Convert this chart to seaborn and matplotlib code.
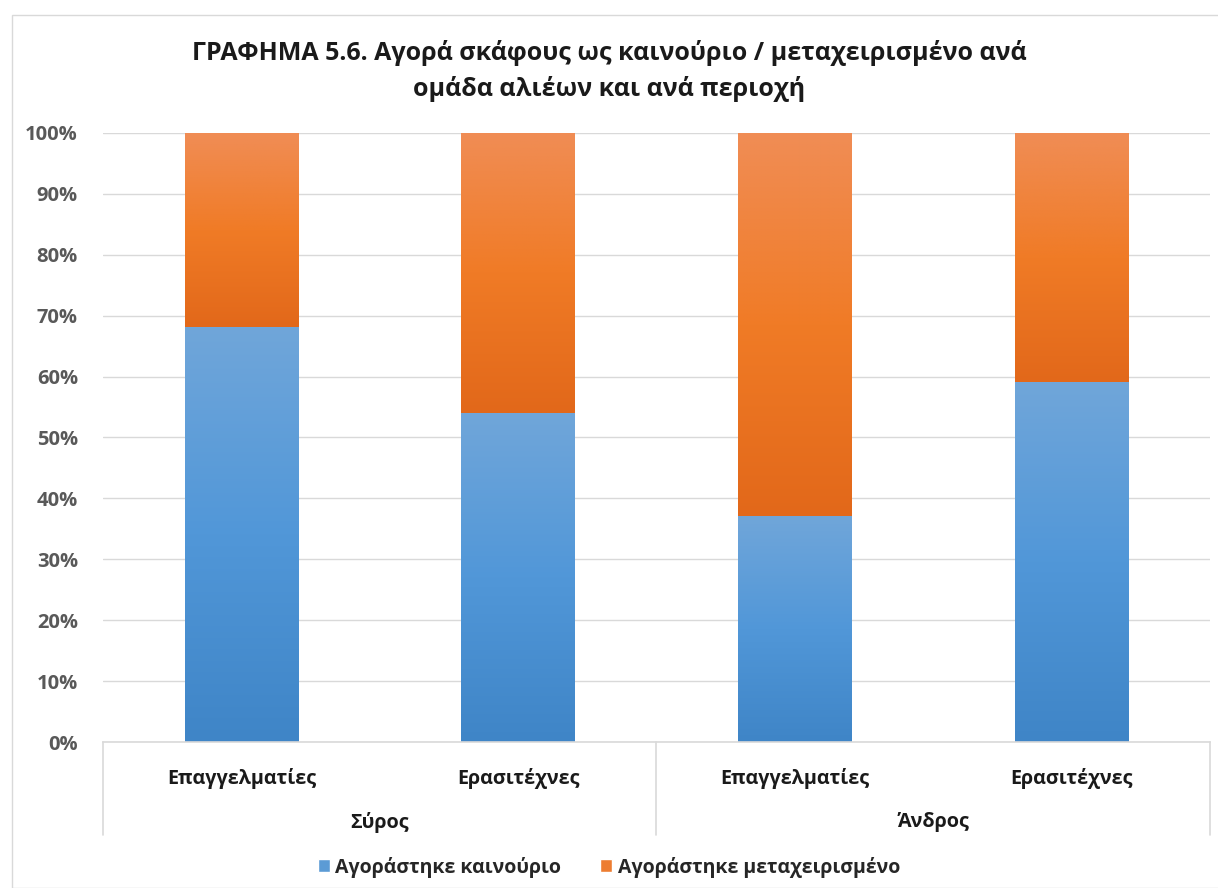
import matplotlib
matplotlib.use("Agg")
import matplotlib.pyplot as plt
import seaborn as sns
import pandas as pd
import numpy as np
from matplotlib.patches import Patch, Rectangle
from matplotlib.ticker import PercentFormatter
from matplotlib.colors import LinearSegmentedColormap

# ---- data ----
regions = ["Σύρος", "Σύρος", "Άνδρος", "Άνδρος"]
groups = ["Επαγγελματίες", "Ερασιτέχνες", "Επαγγελματίες", "Ερασιτέχνες"]
new_pct = [68, 54, 37, 59]
used_pct = [32, 46, 63, 41]
series_names = ["Αγοράστηκε καινούριο", "Αγοράστηκε μεταχειρισμένο"]
title = "ΓΡΑΦΗΜΑ 5.6. Αγορά σκάφους ως καινούριο / μεταχειρισμένο ανά\nομάδα αλιέων και ανά περιοχή"

sns.set_theme(style="white")
plt.rcParams['font.family'] = ['Open Sans', 'DejaVu Sans']

blue = "#5b9bd5"
orange = "#ed7d31"
blue_grad = LinearSegmentedColormap.from_list("bg", ["#3f85c7", "#5197d8", "#70a6da"])
orange_grad = LinearSegmentedColormap.from_list("og", ["#e2681a", "#f07b26", "#f08d55"])

df = pd.DataFrame({
    "key": [f"{r}|{g}" for r, g in zip(regions, groups)],
    "new": new_pct,
    "total": [n + u for n, u in zip(new_pct, used_pct)],
})

fig = plt.figure(figsize=(12.18, 8.88), dpi=100)
ax = fig.add_axes([103/1218, 1 - 742/888, (1210-103)/1218, (742-133)/888])

sns.barplot(data=df, x="key", y="total", color=orange, width=0.41,
            saturation=1, ax=ax, edgecolor="none")
n_or = len(ax.patches)
sns.barplot(data=df, x="key", y="new", color=blue, width=0.41,
            saturation=1, ax=ax, edgecolor="none")

# gradient fill over each bar segment
grad = np.linspace(0, 1, 256).reshape(-1, 1)
patches = list(ax.patches)
for i, p in enumerate(patches):
    x0, w = p.get_x(), p.get_width()
    if i < n_or:
        j = i
        y0, y1 = df["new"].iloc[j], df["total"].iloc[j]
        cmap = orange_grad
    else:
        j = i - n_or
        y0, y1 = 0, df["new"].iloc[j]
        cmap = blue_grad
    ax.imshow(grad, cmap=cmap, extent=[x0, x0 + w, y0, y1], origin="lower",
              aspect="auto", interpolation="bilinear", zorder=p.get_zorder() + 0.5)

ax.set_ylim(0, 100)
ax.set_xlim(-0.5, 3.5)
ax.set_yticks(np.arange(0, 101, 10))
ax.yaxis.set_major_formatter(PercentFormatter(decimals=0))
ax.grid(axis="y", color="#d9d9d9", linewidth=1)
ax.set_axisbelow(True)
for s in ["top", "right", "left"]:
    ax.spines[s].set_visible(False)
ax.spines["bottom"].set_color("#d9d9d9")
ax.spines["bottom"].set_linewidth(1.2)
ax.set_xlabel("")
ax.set_ylabel("")
ax.tick_params(axis="y", length=0, pad=18, labelsize=14.5, labelcolor="#595959")
for t in ax.get_yticklabels():
    t.set_fontweight("bold")
ax.set_xticks(range(len(groups)))
ax.set_xticklabels(groups, fontsize=14.2, fontweight="bold", color="#1a1a1a")
ax.tick_params(axis="x", length=0, pad=19)

# separators below the axis
ybot = -(835 - 742) / 609
for xv in [-0.5, 1.5, 3.5]:
    ax.plot([xv, xv], [0, ybot * 100], color="#d9d9d9", lw=1.2,
            clip_on=False, transform=ax.transData)

# region labels
uniq = []
for r in regions:
    if r not in uniq:
        uniq.append(r)
for r in uniq:
    idx = [i for i, rr in enumerate(regions) if rr == r]
    xc = np.mean(idx)
    ax.text(xc, -(822 - 742) / 609 * 100, r, ha="center", va="center",
            fontsize=14.2, fontweight="bold", color="#1a1a1a", clip_on=False)

fig.suptitle(title, y=1 - 71/888, va="center", fontsize=18, fontweight="bold",
             color="#1a1a1a", linespacing=1.55)

handles = [Patch(facecolor=blue), Patch(facecolor=orange)]
fig.legend(handles, series_names, loc="center", bbox_to_anchor=(609/1218, 1 - 867/888),
           ncol=2, frameon=False, prop={"size": 14, "weight": "bold"},
           handlelength=0.6, handleheight=0.6, handletextpad=0.3, columnspacing=2.0)

# outer frame
fig.patches.append(Rectangle((12/1218, 0), (1218-12)/1218 + 0.01, 1 - 15/888,
                             transform=fig.transFigure, fill=False,
                             edgecolor="#d9d9d9", lw=1))

fig.savefig("out.png", dpi=100)
